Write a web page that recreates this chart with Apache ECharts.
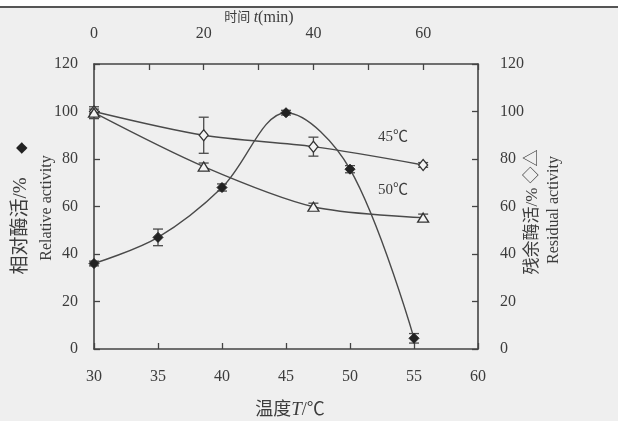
<!DOCTYPE html>
<html>
<head>
<meta charset="utf-8">
<script src="https://cdn.jsdelivr.net/npm/echarts@6/dist/echarts.min.js"></script>
<style>html,body{margin:0;padding:0;background:#efefef;}#c{width:618px;height:421px;}</style>
</head>
<body>
<div id="c"></div>
<script>
// ---- data ----
const tempC = [30, 35, 40, 45, 50, 55];
const relAct = [36, 47, 68, 99.5, 75.7, 4.5];
const relErr = [1, 3.5, 1.5, 1, 1.5, 2];
const timeMin = [0, 20, 40, 60];
const res45 = [100, 90, 85.2, 77.5];
const res45Err = [1, 7.6, 4, 1];
const res50 = [99.5, 76.8, 59.9, 55.3];
const res50Err = [2.5, 1.5, 1.5, 1.5];
const timeLabels = [0, 20, 40, 60];

const FONT = "'Liberation Serif', 'Noto Sans CJK SC', serif";
const TXT = '#3c3c3c';
const LINE = '#4a4a4a';

function errBars(xs, ys, es) { return xs.map((x, i) => [x, ys[i], es[i]]); }
function errRender(params, api) {
  const x = api.value(0), y = api.value(1), e = api.value(2);
  const t = api.coord([x, y + e]), b = api.coord([x, y - e]);
  const w = 5;
  const st = { stroke: LINE, lineWidth: 1.3 };
  return { type: 'group', children: [
    { type: 'line', shape: { x1: t[0], y1: t[1], x2: b[0], y2: b[1] }, style: st },
    { type: 'line', shape: { x1: t[0] - w, y1: t[1], x2: t[0] + w, y2: t[1] }, style: st },
    { type: 'line', shape: { x1: b[0] - w, y1: b[1], x2: b[0] + w, y2: b[1] }, style: st }
  ]};
}

const chart = echarts.init(document.getElementById('c'));
const axisLineStyle = { lineStyle: { color: '#444', width: 1.6 } };
const tickStyle = { show: true, inside: true, length: 6, lineStyle: { color: '#444', width: 1.3 } };
const lbl = { color: TXT, fontFamily: FONT, fontSize: 16 };

chart.setOption({
  backgroundColor: '#efefef',
  animation: false,
  grid: { left: 94, right: 140, top: 64, bottom: 72 },
  xAxis: [
    { type: 'value', position: 'bottom', min: 30, max: 60, interval: 5,
      axisLine: { show: true, onZero: false, ...axisLineStyle },
      axisTick: tickStyle,
      axisLabel: { ...lbl, margin: 20 },
      splitLine: { show: false } },
    { type: 'value', position: 'top', min: 0, max: 70, interval: 10,
      axisLine: { show: true, onZero: false, ...axisLineStyle },
      axisTick: tickStyle,
      axisLabel: { ...lbl, margin: 22, formatter: v => timeLabels.includes(v) ? String(v) : '' },
      splitLine: { show: false } }
  ],
  yAxis: [
    { type: 'value', position: 'left', min: 0, max: 120, interval: 20,
      axisLine: { show: true, onZero: false, ...axisLineStyle },
      axisTick: tickStyle,
      axisLabel: { ...lbl, margin: 16 },
      splitLine: { show: false } },
    { type: 'value', position: 'right', min: 0, max: 120, interval: 20,
      axisLine: { show: true, onZero: false, ...axisLineStyle },
      axisTick: tickStyle,
      axisLabel: { ...lbl, margin: 22 },
      splitLine: { show: false } }
  ],
  series: [
    { type: 'custom', xAxisIndex: 0, yAxisIndex: 0, renderItem: errRender, data: errBars(tempC, relAct, relErr), z: 2 },
    { type: 'custom', xAxisIndex: 1, yAxisIndex: 1, renderItem: errRender, data: errBars(timeMin, res45, res45Err), z: 2 },
    { type: 'custom', xAxisIndex: 1, yAxisIndex: 1, renderItem: errRender, data: errBars(timeMin, res50, res50Err), z: 2 },
    { type: 'line', name: 'Relative', xAxisIndex: 0, yAxisIndex: 0, smooth: 0.35,
      data: tempC.map((t, i) => [t, relAct[i]]),
      symbol: 'diamond', symbolSize: 10,
      lineStyle: { color: LINE, width: 1.4 },
      itemStyle: { color: '#222', borderColor: '#222' }, z: 3 },
    { type: 'line', name: '45', xAxisIndex: 1, yAxisIndex: 1, smooth: 0.3,
      data: timeMin.map((t, i) => [t, res45[i]]),
      symbol: 'diamond', symbolSize: [9, 11],
      lineStyle: { color: LINE, width: 1.4 },
      itemStyle: { color: '#f4f4f4', borderColor: '#333', borderWidth: 1.3 }, z: 4 },
    { type: 'line', name: '50', xAxisIndex: 1, yAxisIndex: 1, smooth: 0.3,
      data: timeMin.map((t, i) => [t, res50[i]]),
      symbol: 'triangle', symbolSize: [11, 9],
      lineStyle: { color: LINE, width: 1.4 },
      itemStyle: { color: '#f4f4f4', borderColor: '#333', borderWidth: 1.3 }, z: 4 }
  ],
  graphic: [
    { type: 'rect', shape: { x: 0, y: 0, width: 618, height: 6 }, style: { fill: '#ffffff' }, silent: true },
    { type: 'line', shape: { x1: 0, y1: 7, x2: 618, y2: 7 }, style: { stroke: '#555', lineWidth: 2 }, silent: true },
    { type: 'text', x: 259, y: 18, style: { text: '{c|时间} {i|t}{n|(min)}', align: 'center', verticalAlign: 'middle',
        rich: { c: { fontFamily: FONT, fontSize: 13, fill: TXT }, i: { fontFamily: FONT, fontSize: 16, fontStyle: 'italic', fill: TXT }, n: { fontFamily: FONT, fontSize: 16, fill: TXT } } } },
    { type: 'text', x: 290, y: 410, style: { text: '{c|温度}{i|T}{n|/℃}', align: 'center', verticalAlign: 'middle',
        rich: { c: { fontFamily: FONT, fontSize: 18, fill: TXT }, i: { fontFamily: FONT, fontSize: 19, fontStyle: 'italic', fill: TXT }, n: { fontFamily: FONT, fontSize: 18, fill: TXT } } } },
    { type: 'text', x: 22, y: 148, style: { text: '◆', fontSize: 15, fill: '#222', align: 'center', verticalAlign: 'middle' } },
    { type: 'text', x: 21, y: 226, rotation: Math.PI / 2, style: { text: '相对酶活/%', fontFamily: FONT, fontSize: 19, fill: TXT, align: 'center', verticalAlign: 'middle' } },
    { type: 'text', x: 47, y: 208, rotation: Math.PI / 2, style: { text: 'Relative activity', fontFamily: FONT, fontSize: 16, fill: TXT, align: 'center', verticalAlign: 'middle' } },
    { type: 'text', x: 533, y: 212, rotation: Math.PI / 2, style: { text: '残余酶活/% ◇△', fontFamily: FONT, fontSize: 17, fill: TXT, align: 'center', verticalAlign: 'middle' } },
    { type: 'text', x: 554, y: 210, rotation: Math.PI / 2, style: { text: 'Residual activity', fontFamily: FONT, fontSize: 16, fill: TXT, align: 'center', verticalAlign: 'middle' } },
    { type: 'text', x: 393, y: 137, style: { text: '45℃', fontFamily: FONT, fontSize: 15, fill: TXT, align: 'center', verticalAlign: 'middle' } },
    { type: 'text', x: 393, y: 190, style: { text: '50℃', fontFamily: FONT, fontSize: 15, fill: TXT, align: 'center', verticalAlign: 'middle' } }
  ]
});
</script>
</body>
</html>
